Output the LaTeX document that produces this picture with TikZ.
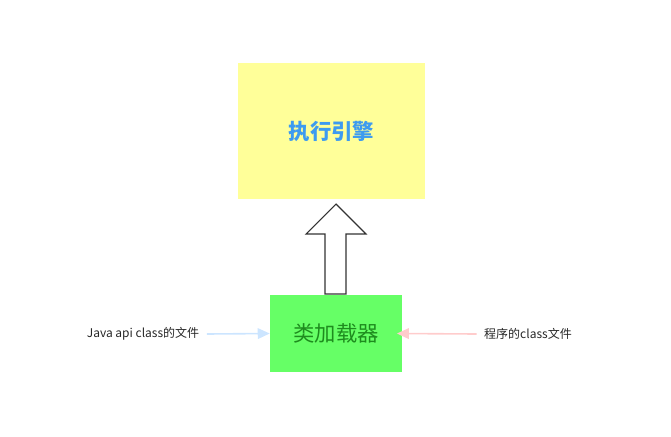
\documentclass[tikz,border=0pt]{standalone}
\usepackage{fontspec}
\setmainfont{Noto Sans CJK SC}
\usetikzlibrary{arrows.meta}
\definecolor{ybox}{HTML}{FFFF99}
\definecolor{gbox}{HTML}{66FF66}
\definecolor{tblue}{HTML}{3D9BF0}
\definecolor{tgreen}{HTML}{1E8C1E}
\definecolor{lblue}{HTML}{CCE5FF}
\definecolor{lpink}{HTML}{FFCCCC}
\begin{document}
\begin{tikzpicture}[x=0.75pt,y=-0.75pt,
  boxy/.style={fill=ybox,draw=none,minimum width=140.25pt,minimum height=102pt,inner sep=0pt},
  boxg/.style={fill=gbox,draw=none,minimum width=99pt,minimum height=57.75pt,inner sep=0pt},
  lbl/.style={font=\fontsize{9}{11}\selectfont,text=black!85},
  feed/.style={line width=1.2pt,-{Triangle[length=9pt,width=8pt]}}]
\useasboundingbox (0,0) rectangle (671,436);
\node[boxy] (exec) at (331.5,131) {\fontsize{16}{19}\selectfont\bfseries\color{tblue}执行引擎};
\node[boxg] (load) at (336,333.5) {\fontsize{16}{19}\selectfont\color{tgreen}类加载器};
\draw[black!80,line width=0.8pt,fill=white] (325,294) -- (325,234) -- (306,234) -- (336,204) -- (366,234) -- (346,234) -- (346,294) -- cycle;
\node[lbl] (java) at (143,334) {Java api class的文件};
\node[lbl] (prog) at (528,334) {程序的class文件};
\draw[feed,lblue] (java.east) ++(3,0) -- (load.west);
\draw[feed,lpink] (prog.west) ++(-3,0) -- ([xshift=-4pt]load.east);
\end{tikzpicture}
\end{document}
